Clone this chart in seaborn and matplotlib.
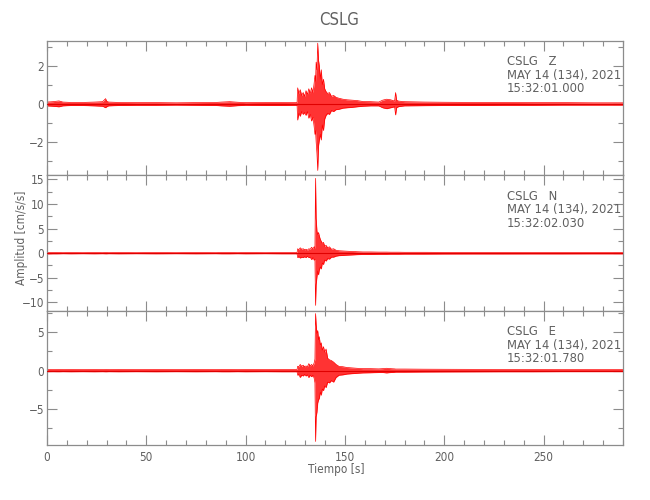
import numpy as np
import pandas as pd
import matplotlib
matplotlib.use("Agg")
import matplotlib.pyplot as plt
from matplotlib.ticker import MultipleLocator
import seaborn as sns

# Envelope of the three accelerograms, cm/s/s
time_s = [0, 3, 6, 8, 12, 18, 24, 28, 29.5, 30, 31, 36, 45, 55, 65, 75, 85, 88, 92, 96,
          100, 110, 118, 125, 125.9, 126.2, 126.8, 127.5, 128.2, 129, 129.7, 130.4, 131.1, 131.8,
          132.5, 133.2, 133.9, 134.5, 134.9, 135.2, 135.5, 135.9, 136.3, 136.7, 137.1, 137.6,
          138.1, 138.6, 139.2, 139.8, 140.5, 141.3, 142.2, 143.2, 144.3, 145.5, 147, 149, 151,
          153.5, 156, 159, 163, 167, 169, 171, 173, 175, 175.5, 176, 177, 180, 190, 200, 215,
          230, 245, 260, 275, 290]

z_upper = [0.10, 0.12, 0.16, 0.10, 0.08, 0.08, 0.10, 0.12, 0.28, 0.15, 0.10, 0.08, 0.07, 0.07,
           0.06, 0.07, 0.08, 0.10, 0.12, 0.09, 0.07, 0.08, 0.08, 0.07,
           0.07, 0.85, 0.55, 0.75, 0.45, 0.60, 0.40, 0.70, 0.50, 0.80, 0.55, 0.85, 0.60, 1.10,
           1.50, 1.20, 2.20, 1.80, 3.20, 2.30, 2.00, 1.30, 1.80, 1.00, 1.30, 0.80, 0.65, 0.55,
           0.60, 0.40, 0.45, 0.35, 0.30, 0.25, 0.22, 0.20, 0.18, 0.13, 0.12, 0.10, 0.20, 0.25,
           0.22, 0.15, 0.60, 0.20, 0.15, 0.12, 0.10, 0.09, 0.08, 0.08, 0.07, 0.07, 0.06, 0.06]
z_lower = [-0.10, -0.12, -0.15, -0.10, -0.08, -0.08, -0.10, -0.12, -0.20, -0.15, -0.10, -0.08,
           -0.07, -0.07, -0.06, -0.07, -0.08, -0.10, -0.12, -0.09, -0.07, -0.08, -0.08, -0.07,
           -0.07, -0.85, -0.50, -0.65, -0.40, -0.55, -0.45, -0.60, -0.40, -0.75, -0.55, -0.90,
           -0.70, -1.20, -1.60, -1.40, -2.00, -2.60, -3.50, -2.20, -1.90, -1.60, -1.90, -1.10,
           -1.40, -0.80, -0.60, -0.50, -0.55, -0.35, -0.40, -0.30, -0.28, -0.22, -0.20, -0.18,
           -0.15, -0.12, -0.10, -0.10, -0.20, -0.25, -0.20, -0.15, -0.58, -0.20, -0.14, -0.10,
           -0.09, -0.08, -0.08, -0.07, -0.07, -0.06, -0.06, -0.06]

n_upper = [0.15, 0.12, 0.12, 0.10, 0.12, 0.10, 0.12, 0.10, 0.12, 0.12, 0.10, 0.12, 0.10, 0.12,
           0.10, 0.12, 0.10, 0.12, 0.12, 0.10, 0.12, 0.10, 0.12, 0.12,
           0.12, 0.90, 0.70, 1.10, 0.80, 0.90, 0.70, 0.80, 0.60, 0.90, 0.80, 1.20, 0.90, 1.30,
           1.00, 15.2, 7.10, 4.50, 3.80, 4.20, 3.50, 2.80, 2.40, 2.00, 2.20, 1.40, 1.60, 1.10,
           1.30, 0.80, 0.90, 0.60, 0.50, 0.45, 0.40, 0.35, 0.30, 0.25, 0.25, 0.22, 0.22, 0.22,
           0.20, 0.20, 0.20, 0.20, 0.20, 0.18, 0.18, 0.16, 0.15, 0.15, 0.14, 0.14, 0.13, 0.13]
n_lower = [-0.15, -0.12, -0.12, -0.10, -0.12, -0.10, -0.12, -0.10, -0.12, -0.12, -0.10, -0.12,
           -0.10, -0.12, -0.10, -0.12, -0.10, -0.12, -0.12, -0.10, -0.12, -0.10, -0.12, -0.12,
           -0.12, -0.90, -0.70, -1.00, -0.80, -0.90, -0.70, -0.90, -0.60, -0.90, -0.80, -1.30,
           -0.90, -1.40, -1.20, -10.6, -6.40, -4.80, -3.60, -4.40, -3.40, -2.80, -3.20, -2.00,
           -2.30, -1.40, -1.60, -1.10, -1.20, -0.80, -0.80, -0.60, -0.50, -0.45, -0.40, -0.35,
           -0.30, -0.25, -0.25, -0.22, -0.22, -0.22, -0.20, -0.20, -0.20, -0.20, -0.20, -0.18,
           -0.18, -0.16, -0.15, -0.15, -0.14, -0.14, -0.13, -0.13]

e_upper = [0.15, 0.14, 0.15, 0.14, 0.15, 0.14, 0.15, 0.14, 0.15, 0.15, 0.14, 0.15, 0.14, 0.15,
           0.14, 0.15, 0.14, 0.15, 0.15, 0.14, 0.15, 0.14, 0.15, 0.15,
           0.15, 0.56, 0.50, 0.80, 0.55, 0.70, 0.50, 0.60, 0.50, 0.90, 0.60, 0.80, 0.60, 1.00,
           1.50, 7.40, 6.00, 4.80, 5.20, 4.00, 4.40, 3.30, 3.60, 2.60, 3.10, 2.40, 2.80, 1.60,
           1.40, 1.30, 1.10, 0.80, 0.55, 0.50, 0.40, 0.35, 0.30, 0.25, 0.25, 0.22, 0.25, 0.30,
           0.25, 0.22, 0.20, 0.20, 0.20, 0.20, 0.18, 0.17, 0.16, 0.15, 0.15, 0.14, 0.14, 0.14]
e_lower = [-0.15, -0.14, -0.15, -0.14, -0.15, -0.14, -0.15, -0.14, -0.15, -0.15, -0.14, -0.15,
           -0.14, -0.15, -0.14, -0.15, -0.14, -0.15, -0.15, -0.14, -0.15, -0.14, -0.15, -0.15,
           -0.15, -0.60, -0.50, -0.90, -0.60, -0.70, -0.50, -0.70, -0.55, -0.90, -0.60, -0.80,
           -0.60, -1.00, -1.60, -9.20, -6.00, -5.40, -4.20, -3.80, -3.60, -2.80, -3.20, -2.40,
           -2.60, -2.00, -2.20, -1.50, -1.60, -1.30, -1.50, -0.90, -0.60, -0.55, -0.45, -0.40,
           -0.35, -0.30, -0.28, -0.25, -0.25, -0.30, -0.25, -0.22, -0.20, -0.20, -0.20, -0.20,
           -0.18, -0.17, -0.16, -0.15, -0.15, -0.14, -0.14, -0.14]

components = ["Z", "N", "E"]
start_times = ["15:32:01.000", "15:32:02.030", "15:32:01.780"]
ylims = [(-3.74, 3.33), (-11.64, 15.88), (-9.66, 7.8)]
y_major = [2, 5, 5]
y_minor = [1, 2.5, 2.5]

GRAY = "#8c8c8c"
TEXT = "#606060"

sns.set_style("ticks")
plt.rcParams['font.family'] = ['DejaVu Sans']
plt.rcParams['font.stretch'] = 'condensed'
plt.rcParams.update({
    "axes.edgecolor": GRAY, "xtick.color": GRAY, "ytick.color": GRAY,
    "xtick.labelcolor": TEXT, "ytick.labelcolor": TEXT,
    "axes.linewidth": 0.9,
})

traces = [(z_upper, z_lower), (n_upper, n_lower), (e_upper, e_lower)]

fig = plt.figure(figsize=(6.5, 5), dpi=100)
bottoms = [0.650, 0.379, 0.110]
heights = [0.2686, 0.271, 0.269]

for i, comp in enumerate(components):
    ax = fig.add_axes([0.0723, bottoms[i], 0.8862, heights[i]])
    up, lo = traces[i]
    df = pd.DataFrame({"t": time_s, "up": up, "lo": lo})
    ax.fill_between(df["t"], df["lo"], df["up"], color="red", lw=0, alpha=0.8)
    sns.lineplot(data=df, x="t", y="up", ax=ax, color="red", lw=0.5)
    sns.lineplot(data=df, x="t", y="lo", ax=ax, color="red", lw=0.5)
    ax.axhline(0, color="#e00000", lw=0.8, zorder=3)

    ax.set_xlim(0, 290)
    ax.set_ylim(*ylims[i])
    ax.xaxis.set_major_locator(MultipleLocator(50))
    ax.xaxis.set_minor_locator(MultipleLocator(10))
    ax.yaxis.set_major_locator(MultipleLocator(y_major[i]))
    ax.yaxis.set_minor_locator(MultipleLocator(y_minor[i]))
    ax.tick_params(which="both", direction="in", top=True, right=True, labelsize=8.5, width=0.8)
    ax.tick_params(which="major", length=7.2)
    ax.tick_params(which="minor", length=3.6)
    ax.tick_params(axis="y", pad=2)
    ax.tick_params(axis="x", pad=4)
    ax.set_xlabel("")
    ax.set_ylabel("")
    if i < 2:
        ax.set_xticklabels([])
    ax.text(0.7986, 0.89, f"CSLG   {comp}\nMAY 14 (134), 2021\n{start_times[i]}",
            transform=ax.transAxes, ha="left", va="top", fontsize=9.3,
            color=TEXT, linespacing=1.05)

fig.text(0.5215, 0.96, "CSLG", ha="center", va="center", fontsize=12, color=TEXT)
fig.text(0.033, 0.525, "Amplitud [cm/s/s]", rotation=90, ha="center", va="center",
         fontsize=8.5, color=TEXT)
fig.text(0.518, 0.06, "Tiempo [s]", ha="center", va="center", fontsize=8.5, color=TEXT)

fig.savefig("out.png", dpi=100, facecolor="white")
